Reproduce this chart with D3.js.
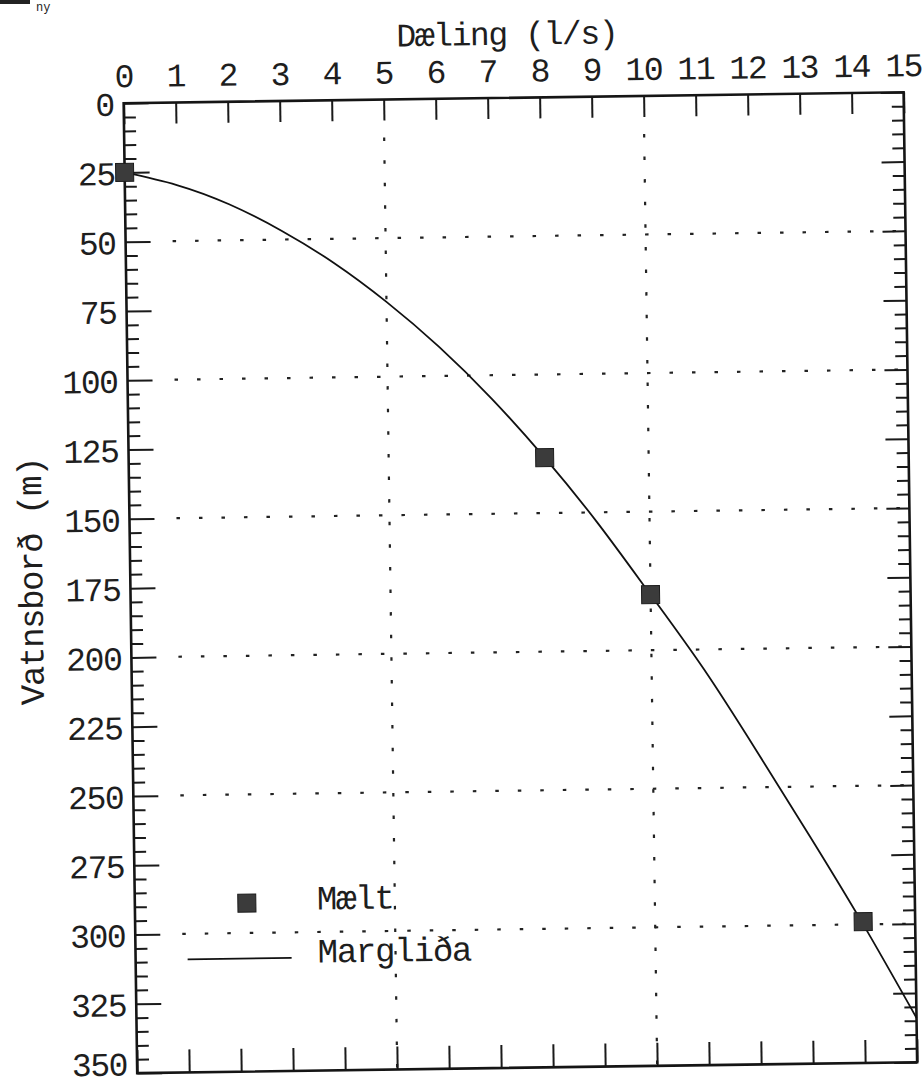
<!DOCTYPE html>
<html>
<head>
<meta charset="utf-8">
<script src="https://cdn.jsdelivr.net/npm/d3@7"></script>
<style>
  body { margin: 0; background: #fff; }
  svg { display: block; background: #fff; }
  text { font-family: "Liberation Mono", "DejaVu Sans Mono", monospace; fill: #1e1e1e; letter-spacing: -1.4px; }
  .axis path { display: none; }
  .axis line { stroke: #1a1a1a; stroke-width: 2; }
</style>
</head>
<body>
<svg width="923" height="1088"></svg>
<script>
// tick labels
var flowTicks = [0, 1, 2, 3, 4, 5, 6, 7, 8, 9, 10, 11, 12, 13, 14, 15];
var levelTicks = [0, 25, 50, 75, 100, 125, 150, 175, 200, 225, 250, 275, 300, 325, 350];
// dotted grid lines
var gridFlow = [5, 10];
var gridLevel = [50, 100, 150, 200, 250, 300];
// measured points (Mælt)
var measFlow = [0, 8, 10, 14];
var measLevel = [25, 130, 180, 299];
// polynomial curve (Margliða)
var fitFlow = [0, 1, 2, 3, 4, 5, 6, 7, 8, 9, 10, 11, 12, 13, 14, 15];
var fitLevel = [25, 29.8, 37, 46.8, 58.7, 73, 89.5, 108.5, 130, 153.8, 180, 207, 237, 268, 300, 334];

var svg = d3.select("svg"),
    width = 780,
    height = 970,
    margin = {left: 130.4, top: 97.7};

// the sheet lies a little crooked on the scanner
var g = svg.append("g")
    .attr("transform", "rotate(-0.8," + (margin.left + width / 2) + "," + (margin.top + height / 2) + ") " +
                       "translate(" + margin.left + "," + margin.top + ")");

var x = d3.scaleLinear().domain([0, 15]).range([0, width]);
var y = d3.scaleLinear().domain([0, 350]).range([0, height]);

//////////// GRID ////////////
g.append("g").selectAll("line")
    .data(gridLevel)
    .enter().append("line")
    .attr("x1", 47).attr("x2", width)
    .attr("y1", d => y(d)).attr("y2", d => y(d))
    .attr("stroke", "#222").attr("stroke-width", 2.2)
    .attr("stroke-dasharray", "3.5,19");

g.append("g").selectAll("line")
    .data(gridFlow)
    .enter().append("line")
    .attr("x1", d => x(d)).attr("x2", d => x(d))
    .attr("y1", 38).attr("y2", height)
    .attr("stroke", "#222").attr("stroke-width", 2.2)
    .attr("stroke-dasharray", "3.5,19.1");

//////////// AXES ////////////
var minorLevel = d3.range(0, 351, 5).filter(d => d % 25 != 0);

var topAxis = g.append("g").attr("class", "axis")
    .call(d3.axisTop(x).tickValues(flowTicks).tickSize(-21).tickPadding(16));
topAxis.attr("font-size", 33);

var leftAxis = g.append("g").attr("class", "axis")
    .call(d3.axisLeft(y).tickValues(levelTicks).tickSize(-25).tickPadding(10));
leftAxis.attr("font-size", 33);
leftAxis.selectAll("text").attr("dy", "0.36em");
// bottom label sits a touch higher on the sheet
leftAxis.selectAll("text").filter(d => d == 350).attr("dy", "0.05em");

g.append("g").attr("class", "axis")
    .call(d3.axisLeft(y).tickValues(minorLevel).tickSize(-12).tickFormat(""));

g.append("g").attr("class", "axis")
    .attr("transform", "translate(" + width + ",0)")
    .call(d3.axisRight(y).tickValues(levelTicks).tickSize(-23).tickFormat(""));
g.append("g").attr("class", "axis")
    .attr("transform", "translate(" + width + ",0)")
    .call(d3.axisRight(y).tickValues(minorLevel).tickSize(-12).tickFormat(""));

g.append("g").attr("class", "axis")
    .attr("transform", "translate(0," + height + ")")
    .call(d3.axisBottom(x).tickValues(flowTicks).tickSize(-23).tickFormat(""));

// frame
g.append("rect")
    .attr("width", width).attr("height", height)
    .attr("fill", "none").attr("stroke", "#151515").attr("stroke-width", 2.6);

// titles
g.append("text")
    .attr("x", width / 2 - 6).attr("y", -53)
    .attr("text-anchor", "middle").attr("font-size", 33)
    .text("Dæling (l/s)");

g.append("text")
    .attr("transform", "translate(-88," + (height / 2 - 8) + ") rotate(-90)")
    .attr("text-anchor", "middle").attr("font-size", 34)
    .text("Vatnsborð (m)");

//////////// DATA ////////////
var line = d3.line()
    .x(d => x(d[0]))
    .y(d => y(d[1]))
    .curve(d3.curveNatural);

g.append("path")
    .datum(d3.zip(fitFlow, fitLevel))
    .attr("d", line)
    .attr("fill", "none").attr("stroke", "#111").attr("stroke-width", 1.8);

g.append("g").selectAll("rect")
    .data(d3.zip(measFlow, measLevel))
    .enter().append("rect")
    .attr("x", d => x(d[0]) - 9).attr("y", d => y(d[1]) - 9)
    .attr("width", 18).attr("height", 18)
    .attr("fill", "#3b3b3b").attr("stroke", "#1c1c1c").attr("stroke-width", 1);

//////////// LEGEND ////////////
var legend = g.append("g");
legend.append("rect")
    .attr("x", 103).attr("y", 792.5).attr("width", 18).attr("height", 18)
    .attr("fill", "#3b3b3b").attr("stroke", "#1c1c1c").attr("stroke-width", 1);
legend.append("text")
    .attr("x", 182).attr("y", 809).attr("font-size", 34)
    .style("letter-spacing", "-1.2px")
    .text("Mælt");
legend.append("line")
    .attr("x1", 52).attr("x2", 156).attr("y1", 857).attr("y2", 857)
    .attr("stroke", "#111").attr("stroke-width", 1.8);
legend.append("text")
    .attr("x", 182).attr("y", 862).attr("font-size", 34)
    .style("letter-spacing", "-1.2px")
    .text("Margliða");

// scrap of the line above the chart on the sheet
svg.append("rect").attr("x", 0).attr("y", 0).attr("width", 30).attr("height", 4).attr("fill", "#222");
svg.append("text").attr("x", 36).attr("y", 11).attr("font-size", 12).style("letter-spacing", "0px").text("ny");
</script>
</body>
</html>
